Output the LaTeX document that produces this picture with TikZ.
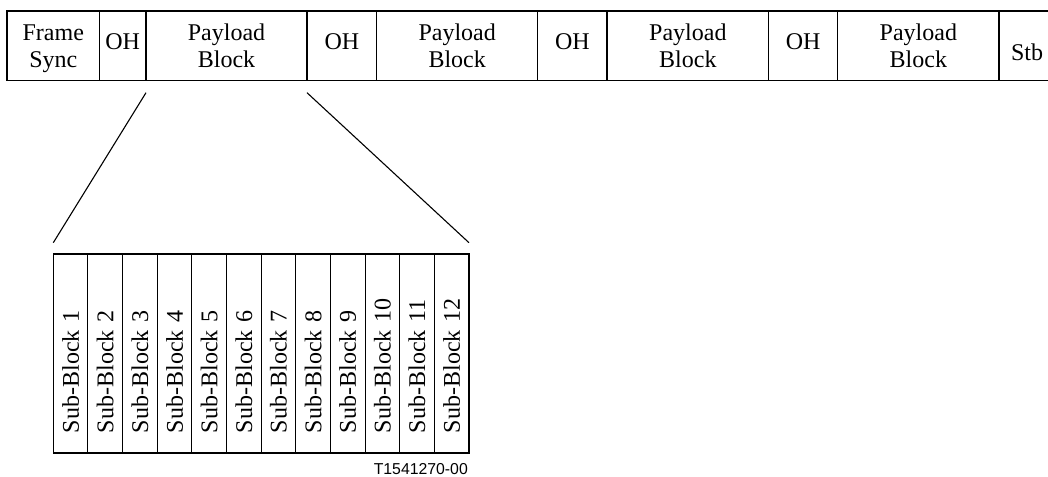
\documentclass[tikz,border=0pt]{standalone}
\usepackage{fontspec}
\setmainfont{Liberation Serif}
\newfontfamily\tagfont{Liberation Sans}
\usetikzlibrary{positioning}

\tikzset{
  field/.style={draw,line width=1.1pt,inner sep=0pt,outer sep=0pt,minimum height=69.7pt,
                align=center,font=\fontsize{24}{27}\selectfont},
  subblock/.style={draw,line width=1.1pt,inner sep=0pt,outer sep=0pt,rotate=90,minimum width=199pt,
                   minimum height=34.64pt,text width=159pt,align=left,
                   font=\fontsize{24}{27}\selectfont},
}

\begin{document}
\begin{tikzpicture}[x=1pt,y=-1pt]
  \useasboundingbox (0,0) rectangle (1048,476);
  \clip (0,0) rectangle (1048,476);
  % frame fields
  \node[field,anchor=north west,minimum width=92.5pt,text depth=0pt] (fs) at (7,11) {Frame\\Sync};
  \node[field,right=0pt of fs,minimum width=46.5pt,text depth=8.6pt] (oh1) {OH};
  \node[field,right=0pt of oh1,minimum width=161pt] (pb1) {Payload\\Block};
  \node[field,right=0pt of pb1,minimum width=69.7pt,text depth=8.6pt] (oh2) {OH};
  \node[field,right=0pt of oh2,minimum width=161pt] (pb2) {Payload\\Block};
  \node[field,right=0pt of pb2,minimum width=69.3pt,text depth=8.6pt] (oh3) {OH};
  \node[field,right=0pt of oh3,minimum width=161.7pt] (pb3) {Payload\\Block};
  \node[field,right=0pt of pb3,minimum width=69pt,text depth=8.6pt] (oh4) {OH};
  \node[field,right=0pt of oh4,minimum width=161.3pt] (pb4) {Payload\\Block};
  \node[field,right=0pt of pb4,minimum width=56pt,text height=29pt] (stb) {Stb};
  % sub-blocks of the first payload block
  \foreach \i in {1,...,12}{
    \node[subblock] (sb\i) at ({53.3+34.64*(\i-0.5)},353.5) {Sub-Block \i};
  }
  % expansion lines
  \draw[line width=1.1pt] ([yshift=-12pt]pb1.south west) -- ([yshift=11.3pt]sb1.north east);
  \draw[line width=1.1pt] ([yshift=-12pt]pb1.south east) -- ([yshift=11.3pt]sb12.south east);
  \node[font=\tagfont\fontsize{15.8}{18}\selectfont,anchor=base east,inner sep=0pt] (tag) at (468,474) {T1541270-00};
\end{tikzpicture}
\end{document}
